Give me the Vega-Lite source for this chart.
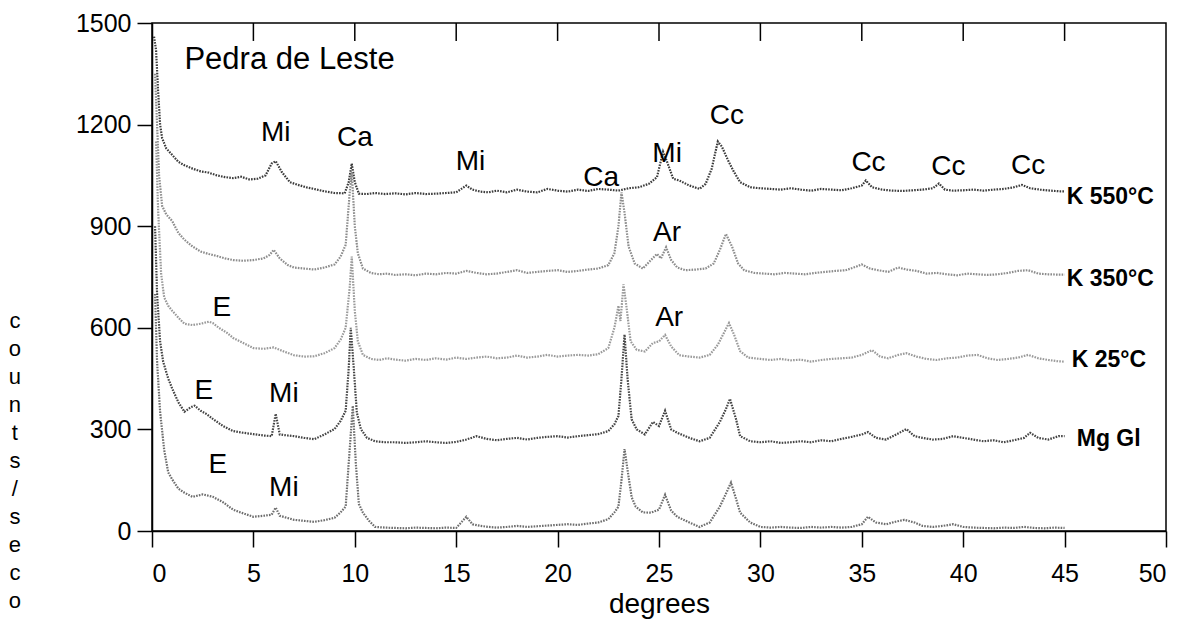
{
  "$schema": "https://vega.github.io/schema/vega-lite/v6.json",
  "autosize": "none",
  "width": 1014,
  "height": 508,
  "padding": {"left": 152, "top": 23, "right": 21, "bottom": 91},
  "background": "white",
  "config": {
    "font": "Liberation Sans",
    "view": {"stroke": "black", "strokeWidth": 1.5},
    "axis": {"grid": false, "domainColor": "black", "tickColor": "black", "labelColor": "black", "titleColor": "black", "labelFont": "Liberation Sans", "titleFont": "Liberation Sans", "labelFontSize": 25, "domainWidth": 1.5, "tickWidth": 1.5}
  },
  "datasets": {
    "traces": [
      {"s":"K550","x":0.1,"y":1460},{"s":"K550","x":0.2,"y":1420},{"s":"K550","x":0.3,"y":1300},{"s":"K550","x":0.4,"y":1200},{"s":"K550","x":0.5,"y":1160},{"s":"K550","x":0.7,"y":1130},{"s":"K550","x":1.0,"y":1110},{"s":"K550","x":1.3,"y":1090},{"s":"K550","x":1.6,"y":1080},{"s":"K550","x":2.0,"y":1070},{"s":"K550","x":2.4,"y":1062},{"s":"K550","x":2.8,"y":1058},{"s":"K550","x":3.2,"y":1050},{"s":"K550","x":3.6,"y":1045},{"s":"K550","x":4.0,"y":1042},{"s":"K550","x":4.4,"y":1046},{"s":"K550","x":4.8,"y":1038},{"s":"K550","x":5.2,"y":1040},{"s":"K550","x":5.6,"y":1050},{"s":"K550","x":5.9,"y":1085},{"s":"K550","x":6.1,"y":1092},{"s":"K550","x":6.4,"y":1060},{"s":"K550","x":6.8,"y":1030},{"s":"K550","x":7.2,"y":1022},{"s":"K550","x":7.6,"y":1015},{"s":"K550","x":8.0,"y":1010},{"s":"K550","x":8.5,"y":1003},{"s":"K550","x":9.0,"y":998},{"s":"K550","x":9.5,"y":997},{"s":"K550","x":9.7,"y":1030},{"s":"K550","x":9.85,"y":1085},{"s":"K550","x":10.0,"y":1030},{"s":"K550","x":10.2,"y":996},{"s":"K550","x":10.6,"y":995},{"s":"K550","x":11.0,"y":998},{"s":"K550","x":11.5,"y":995},{"s":"K550","x":12,"y":997},{"s":"K550","x":12.5,"y":994},{"s":"K550","x":13,"y":998},{"s":"K550","x":13.5,"y":995},{"s":"K550","x":14,"y":996},{"s":"K550","x":14.5,"y":998},{"s":"K550","x":15,"y":1000},{"s":"K550","x":15.5,"y":1020},{"s":"K550","x":15.8,"y":1008},{"s":"K550","x":16.2,"y":1002},{"s":"K550","x":16.6,"y":1000},{"s":"K550","x":17,"y":1005},{"s":"K550","x":17.5,"y":1000},{"s":"K550","x":18,"y":1008},{"s":"K550","x":18.5,"y":1002},{"s":"K550","x":19,"y":1000},{"s":"K550","x":19.5,"y":1010},{"s":"K550","x":20,"y":1005},{"s":"K550","x":20.5,"y":1002},{"s":"K550","x":21,"y":1008},{"s":"K550","x":21.5,"y":1004},{"s":"K550","x":22,"y":1010},{"s":"K550","x":22.5,"y":1008},{"s":"K550","x":23,"y":1005},{"s":"K550","x":23.5,"y":1012},{"s":"K550","x":24,"y":1015},{"s":"K550","x":24.5,"y":1025},{"s":"K550","x":24.9,"y":1045},{"s":"K550","x":25.2,"y":1120},{"s":"K550","x":25.4,"y":1090},{"s":"K550","x":25.7,"y":1040},{"s":"K550","x":26,"y":1035},{"s":"K550","x":26.5,"y":1020},{"s":"K550","x":27,"y":1010},{"s":"K550","x":27.3,"y":1025},{"s":"K550","x":27.6,"y":1070},{"s":"K550","x":27.9,"y":1150},{"s":"K550","x":28.1,"y":1135},{"s":"K550","x":28.4,"y":1095},{"s":"K550","x":28.7,"y":1060},{"s":"K550","x":29,"y":1030},{"s":"K550","x":29.5,"y":1015},{"s":"K550","x":30,"y":1012},{"s":"K550","x":30.5,"y":1010},{"s":"K550","x":31,"y":1008},{"s":"K550","x":31.5,"y":1012},{"s":"K550","x":32,"y":1008},{"s":"K550","x":32.5,"y":1005},{"s":"K550","x":33,"y":1010},{"s":"K550","x":33.5,"y":1008},{"s":"K550","x":34,"y":1006},{"s":"K550","x":34.5,"y":1012},{"s":"K550","x":35,"y":1020},{"s":"K550","x":35.2,"y":1035},{"s":"K550","x":35.5,"y":1015},{"s":"K550","x":36,"y":1008},{"s":"K550","x":36.5,"y":1005},{"s":"K550","x":37,"y":1004},{"s":"K550","x":37.5,"y":1006},{"s":"K550","x":38,"y":1008},{"s":"K550","x":38.5,"y":1012},{"s":"K550","x":38.8,"y":1026},{"s":"K550","x":39.1,"y":1008},{"s":"K550","x":39.5,"y":1005},{"s":"K550","x":40,"y":1006},{"s":"K550","x":40.5,"y":1008},{"s":"K550","x":41,"y":1005},{"s":"K550","x":41.5,"y":1008},{"s":"K550","x":42,"y":1010},{"s":"K550","x":42.5,"y":1015},{"s":"K550","x":42.9,"y":1022},{"s":"K550","x":43.3,"y":1012},{"s":"K550","x":43.8,"y":1008},{"s":"K550","x":44.3,"y":1005},{"s":"K550","x":44.8,"y":1003},{"s":"K550","x":45,"y":1003},

      {"s":"K350","x":0.15,"y":1350},{"s":"K350","x":0.25,"y":1200},{"s":"K350","x":0.35,"y":1050},{"s":"K350","x":0.5,"y":960},{"s":"K350","x":0.7,"y":935},{"s":"K350","x":1.0,"y":915},{"s":"K350","x":1.3,"y":880},{"s":"K350","x":1.6,"y":860},{"s":"K350","x":2.0,"y":840},{"s":"K350","x":2.4,"y":825},{"s":"K350","x":2.8,"y":818},{"s":"K350","x":3.2,"y":812},{"s":"K350","x":3.6,"y":805},{"s":"K350","x":4.0,"y":800},{"s":"K350","x":4.5,"y":798},{"s":"K350","x":5.0,"y":800},{"s":"K350","x":5.5,"y":805},{"s":"K350","x":5.8,"y":815},{"s":"K350","x":6.0,"y":830},{"s":"K350","x":6.3,"y":805},{"s":"K350","x":6.7,"y":785},{"s":"K350","x":7.0,"y":778},{"s":"K350","x":7.5,"y":775},{"s":"K350","x":8.0,"y":772},{"s":"K350","x":8.5,"y":778},{"s":"K350","x":9.0,"y":787},{"s":"K350","x":9.3,"y":810},{"s":"K350","x":9.55,"y":845},{"s":"K350","x":9.75,"y":1000},{"s":"K350","x":9.85,"y":1060},{"s":"K350","x":10.0,"y":900},{"s":"K350","x":10.15,"y":820},{"s":"K350","x":10.4,"y":775},{"s":"K350","x":10.8,"y":762},{"s":"K350","x":11.2,"y":758},{"s":"K350","x":11.6,"y":760},{"s":"K350","x":12,"y":756},{"s":"K350","x":12.5,"y":758},{"s":"K350","x":13,"y":755},{"s":"K350","x":13.5,"y":760},{"s":"K350","x":14,"y":758},{"s":"K350","x":14.5,"y":762},{"s":"K350","x":15,"y":760},{"s":"K350","x":15.5,"y":768},{"s":"K350","x":16,"y":762},{"s":"K350","x":16.5,"y":758},{"s":"K350","x":17,"y":760},{"s":"K350","x":17.5,"y":765},{"s":"K350","x":18,"y":770},{"s":"K350","x":18.5,"y":762},{"s":"K350","x":19,"y":765},{"s":"K350","x":19.5,"y":768},{"s":"K350","x":20,"y":770},{"s":"K350","x":20.5,"y":765},{"s":"K350","x":21,"y":768},{"s":"K350","x":21.5,"y":772},{"s":"K350","x":22,"y":775},{"s":"K350","x":22.5,"y":785},{"s":"K350","x":22.8,"y":820},{"s":"K350","x":23.0,"y":900},{"s":"K350","x":23.15,"y":1000},{"s":"K350","x":23.3,"y":940},{"s":"K350","x":23.5,"y":840},{"s":"K350","x":23.8,"y":790},{"s":"K350","x":24.2,"y":775},{"s":"K350","x":24.6,"y":800},{"s":"K350","x":24.9,"y":818},{"s":"K350","x":25.1,"y":805},{"s":"K350","x":25.35,"y":838},{"s":"K350","x":25.6,"y":800},{"s":"K350","x":25.9,"y":778},{"s":"K350","x":26.3,"y":770},{"s":"K350","x":26.8,"y":772},{"s":"K350","x":27.3,"y":775},{"s":"K350","x":27.7,"y":790},{"s":"K350","x":28.0,"y":830},{"s":"K350","x":28.3,"y":877},{"s":"K350","x":28.6,"y":840},{"s":"K350","x":28.9,"y":790},{"s":"K350","x":29.2,"y":770},{"s":"K350","x":29.7,"y":762},{"s":"K350","x":30.2,"y":760},{"s":"K350","x":30.7,"y":758},{"s":"K350","x":31.2,"y":762},{"s":"K350","x":31.7,"y":760},{"s":"K350","x":32.2,"y":758},{"s":"K350","x":32.7,"y":762},{"s":"K350","x":33.2,"y":765},{"s":"K350","x":33.7,"y":768},{"s":"K350","x":34.2,"y":770},{"s":"K350","x":34.7,"y":780},{"s":"K350","x":35.0,"y":787},{"s":"K350","x":35.4,"y":775},{"s":"K350","x":35.8,"y":770},{"s":"K350","x":36.3,"y":765},{"s":"K350","x":36.8,"y":778},{"s":"K350","x":37.2,"y":772},{"s":"K350","x":37.7,"y":768},{"s":"K350","x":38.2,"y":760},{"s":"K350","x":38.7,"y":762},{"s":"K350","x":39.2,"y":758},{"s":"K350","x":39.7,"y":755},{"s":"K350","x":40.2,"y":760},{"s":"K350","x":40.7,"y":758},{"s":"K350","x":41.2,"y":756},{"s":"K350","x":41.7,"y":758},{"s":"K350","x":42.2,"y":762},{"s":"K350","x":42.7,"y":768},{"s":"K350","x":43.2,"y":770},{"s":"K350","x":43.7,"y":760},{"s":"K350","x":44.2,"y":758},{"s":"K350","x":44.7,"y":757},{"s":"K350","x":45.0,"y":757},

      {"s":"K25","x":0.2,"y":1150},{"s":"K25","x":0.3,"y":950},{"s":"K25","x":0.45,"y":760},{"s":"K25","x":0.6,"y":690},{"s":"K25","x":0.8,"y":665},{"s":"K25","x":1.0,"y":650},{"s":"K25","x":1.3,"y":630},{"s":"K25","x":1.6,"y":612},{"s":"K25","x":2.0,"y":608},{"s":"K25","x":2.4,"y":612},{"s":"K25","x":2.8,"y":618},{"s":"K25","x":3.0,"y":614},{"s":"K25","x":3.3,"y":600},{"s":"K25","x":3.7,"y":585},{"s":"K25","x":4.0,"y":570},{"s":"K25","x":4.5,"y":555},{"s":"K25","x":5.0,"y":540},{"s":"K25","x":5.5,"y":538},{"s":"K25","x":6.0,"y":542},{"s":"K25","x":6.5,"y":530},{"s":"K25","x":7.0,"y":519},{"s":"K25","x":7.5,"y":515},{"s":"K25","x":8.0,"y":516},{"s":"K25","x":8.5,"y":525},{"s":"K25","x":9.0,"y":540},{"s":"K25","x":9.3,"y":565},{"s":"K25","x":9.55,"y":600},{"s":"K25","x":9.75,"y":720},{"s":"K25","x":9.85,"y":810},{"s":"K25","x":10.0,"y":650},{"s":"K25","x":10.15,"y":560},{"s":"K25","x":10.4,"y":520},{"s":"K25","x":10.8,"y":508},{"s":"K25","x":11.2,"y":505},{"s":"K25","x":11.6,"y":510},{"s":"K25","x":12,"y":506},{"s":"K25","x":12.5,"y":503},{"s":"K25","x":13,"y":508},{"s":"K25","x":13.5,"y":505},{"s":"K25","x":14,"y":510},{"s":"K25","x":14.5,"y":506},{"s":"K25","x":15,"y":512},{"s":"K25","x":15.5,"y":508},{"s":"K25","x":16,"y":512},{"s":"K25","x":16.5,"y":515},{"s":"K25","x":17,"y":510},{"s":"K25","x":17.5,"y":512},{"s":"K25","x":18,"y":518},{"s":"K25","x":18.5,"y":512},{"s":"K25","x":19,"y":515},{"s":"K25","x":19.5,"y":520},{"s":"K25","x":20,"y":515},{"s":"K25","x":20.5,"y":518},{"s":"K25","x":21,"y":520},{"s":"K25","x":21.5,"y":518},{"s":"K25","x":22,"y":522},{"s":"K25","x":22.5,"y":540},{"s":"K25","x":22.8,"y":600},{"s":"K25","x":23.0,"y":665},{"s":"K25","x":23.1,"y":620},{"s":"K25","x":23.25,"y":728},{"s":"K25","x":23.4,"y":660},{"s":"K25","x":23.6,"y":560},{"s":"K25","x":23.9,"y":535},{"s":"K25","x":24.3,"y":530},{"s":"K25","x":24.7,"y":555},{"s":"K25","x":25.0,"y":560},{"s":"K25","x":25.3,"y":579},{"s":"K25","x":25.6,"y":545},{"s":"K25","x":26.0,"y":519},{"s":"K25","x":26.5,"y":515},{"s":"K25","x":27.0,"y":512},{"s":"K25","x":27.5,"y":520},{"s":"K25","x":27.9,"y":550},{"s":"K25","x":28.2,"y":585},{"s":"K25","x":28.45,"y":614},{"s":"K25","x":28.7,"y":580},{"s":"K25","x":29.0,"y":531},{"s":"K25","x":29.4,"y":512},{"s":"K25","x":30,"y":508},{"s":"K25","x":30.5,"y":505},{"s":"K25","x":31,"y":508},{"s":"K25","x":31.5,"y":504},{"s":"K25","x":32,"y":506},{"s":"K25","x":32.5,"y":500},{"s":"K25","x":33,"y":505},{"s":"K25","x":33.5,"y":508},{"s":"K25","x":34,"y":510},{"s":"K25","x":34.5,"y":512},{"s":"K25","x":35,"y":520},{"s":"K25","x":35.5,"y":534},{"s":"K25","x":35.9,"y":515},{"s":"K25","x":36.3,"y":510},{"s":"K25","x":36.8,"y":520},{"s":"K25","x":37.2,"y":525},{"s":"K25","x":37.7,"y":515},{"s":"K25","x":38.2,"y":508},{"s":"K25","x":38.7,"y":505},{"s":"K25","x":39.2,"y":510},{"s":"K25","x":39.7,"y":512},{"s":"K25","x":40.2,"y":518},{"s":"K25","x":40.7,"y":520},{"s":"K25","x":41.2,"y":510},{"s":"K25","x":41.7,"y":505},{"s":"K25","x":42.2,"y":508},{"s":"K25","x":42.7,"y":512},{"s":"K25","x":43.2,"y":520},{"s":"K25","x":43.7,"y":510},{"s":"K25","x":44.2,"y":505},{"s":"K25","x":44.7,"y":501},{"s":"K25","x":45,"y":500},

      {"s":"MgGl","x":0.15,"y":900},{"s":"MgGl","x":0.25,"y":700},{"s":"MgGl","x":0.4,"y":560},{"s":"MgGl","x":0.55,"y":500},{"s":"MgGl","x":0.8,"y":450},{"s":"MgGl","x":1.0,"y":420},{"s":"MgGl","x":1.3,"y":380},{"s":"MgGl","x":1.6,"y":352},{"s":"MgGl","x":1.9,"y":365},{"s":"MgGl","x":2.1,"y":370},{"s":"MgGl","x":2.4,"y":355},{"s":"MgGl","x":2.7,"y":345},{"s":"MgGl","x":3.0,"y":331},{"s":"MgGl","x":3.5,"y":310},{"s":"MgGl","x":4.0,"y":295},{"s":"MgGl","x":4.5,"y":290},{"s":"MgGl","x":5.0,"y":286},{"s":"MgGl","x":5.5,"y":282},{"s":"MgGl","x":5.9,"y":280},{"s":"MgGl","x":6.1,"y":346},{"s":"MgGl","x":6.3,"y":285},{"s":"MgGl","x":6.7,"y":282},{"s":"MgGl","x":7.0,"y":280},{"s":"MgGl","x":7.5,"y":275},{"s":"MgGl","x":8.0,"y":271},{"s":"MgGl","x":8.5,"y":285},{"s":"MgGl","x":9.0,"y":301},{"s":"MgGl","x":9.3,"y":325},{"s":"MgGl","x":9.55,"y":355},{"s":"MgGl","x":9.7,"y":480},{"s":"MgGl","x":9.8,"y":600},{"s":"MgGl","x":9.95,"y":480},{"s":"MgGl","x":10.1,"y":350},{"s":"MgGl","x":10.3,"y":301},{"s":"MgGl","x":10.6,"y":275},{"s":"MgGl","x":11,"y":265},{"s":"MgGl","x":11.5,"y":262},{"s":"MgGl","x":12,"y":262},{"s":"MgGl","x":12.5,"y":260},{"s":"MgGl","x":13,"y":262},{"s":"MgGl","x":13.5,"y":265},{"s":"MgGl","x":14,"y":262},{"s":"MgGl","x":14.5,"y":260},{"s":"MgGl","x":15,"y":263},{"s":"MgGl","x":15.5,"y":270},{"s":"MgGl","x":16,"y":280},{"s":"MgGl","x":16.5,"y":272},{"s":"MgGl","x":17,"y":268},{"s":"MgGl","x":17.5,"y":272},{"s":"MgGl","x":18,"y":275},{"s":"MgGl","x":18.5,"y":270},{"s":"MgGl","x":19,"y":275},{"s":"MgGl","x":19.5,"y":278},{"s":"MgGl","x":20,"y":280},{"s":"MgGl","x":20.5,"y":276},{"s":"MgGl","x":21,"y":280},{"s":"MgGl","x":21.5,"y":283},{"s":"MgGl","x":22,"y":286},{"s":"MgGl","x":22.5,"y":295},{"s":"MgGl","x":22.8,"y":315},{"s":"MgGl","x":23.0,"y":340},{"s":"MgGl","x":23.15,"y":450},{"s":"MgGl","x":23.3,"y":580},{"s":"MgGl","x":23.45,"y":450},{"s":"MgGl","x":23.65,"y":330},{"s":"MgGl","x":23.9,"y":300},{"s":"MgGl","x":24.3,"y":285},{"s":"MgGl","x":24.7,"y":322},{"s":"MgGl","x":25.0,"y":310},{"s":"MgGl","x":25.3,"y":355},{"s":"MgGl","x":25.6,"y":300},{"s":"MgGl","x":25.9,"y":290},{"s":"MgGl","x":26.5,"y":275},{"s":"MgGl","x":27.0,"y":265},{"s":"MgGl","x":27.5,"y":275},{"s":"MgGl","x":28.0,"y":322},{"s":"MgGl","x":28.3,"y":360},{"s":"MgGl","x":28.5,"y":390},{"s":"MgGl","x":28.8,"y":330},{"s":"MgGl","x":29.0,"y":280},{"s":"MgGl","x":29.5,"y":265},{"s":"MgGl","x":30,"y":262},{"s":"MgGl","x":30.5,"y":265},{"s":"MgGl","x":31,"y":260},{"s":"MgGl","x":31.5,"y":262},{"s":"MgGl","x":32,"y":265},{"s":"MgGl","x":32.5,"y":262},{"s":"MgGl","x":33,"y":268},{"s":"MgGl","x":33.5,"y":265},{"s":"MgGl","x":34,"y":272},{"s":"MgGl","x":34.5,"y":278},{"s":"MgGl","x":35,"y":285},{"s":"MgGl","x":35.3,"y":292},{"s":"MgGl","x":35.7,"y":275},{"s":"MgGl","x":36.2,"y":270},{"s":"MgGl","x":36.7,"y":285},{"s":"MgGl","x":37.2,"y":301},{"s":"MgGl","x":37.6,"y":280},{"s":"MgGl","x":38,"y":275},{"s":"MgGl","x":38.5,"y":270},{"s":"MgGl","x":39,"y":272},{"s":"MgGl","x":39.5,"y":280},{"s":"MgGl","x":40,"y":275},{"s":"MgGl","x":40.5,"y":270},{"s":"MgGl","x":41,"y":265},{"s":"MgGl","x":41.5,"y":268},{"s":"MgGl","x":42,"y":262},{"s":"MgGl","x":42.5,"y":268},{"s":"MgGl","x":43,"y":275},{"s":"MgGl","x":43.3,"y":290},{"s":"MgGl","x":43.7,"y":275},{"s":"MgGl","x":44.2,"y":270},{"s":"MgGl","x":44.7,"y":280},{"s":"MgGl","x":45,"y":280},

      {"s":"AD","x":0.15,"y":700},{"s":"AD","x":0.25,"y":500},{"s":"AD","x":0.4,"y":352},{"s":"AD","x":0.6,"y":240},{"s":"AD","x":0.8,"y":173},{"s":"AD","x":1.0,"y":152},{"s":"AD","x":1.3,"y":125},{"s":"AD","x":1.6,"y":113},{"s":"AD","x":2.0,"y":101},{"s":"AD","x":2.5,"y":108},{"s":"AD","x":3.0,"y":101},{"s":"AD","x":3.5,"y":85},{"s":"AD","x":4.0,"y":63},{"s":"AD","x":4.5,"y":52},{"s":"AD","x":5.0,"y":42},{"s":"AD","x":5.5,"y":45},{"s":"AD","x":5.9,"y":48},{"s":"AD","x":6.1,"y":69},{"s":"AD","x":6.3,"y":45},{"s":"AD","x":7.0,"y":33},{"s":"AD","x":7.5,"y":30},{"s":"AD","x":8.0,"y":27},{"s":"AD","x":8.5,"y":32},{"s":"AD","x":9.0,"y":39},{"s":"AD","x":9.3,"y":55},{"s":"AD","x":9.55,"y":72},{"s":"AD","x":9.7,"y":200},{"s":"AD","x":9.9,"y":370},{"s":"AD","x":10.05,"y":200},{"s":"AD","x":10.2,"y":80},{"s":"AD","x":10.4,"y":54},{"s":"AD","x":10.7,"y":30},{"s":"AD","x":11,"y":12},{"s":"AD","x":11.5,"y":10},{"s":"AD","x":12,"y":9},{"s":"AD","x":12.5,"y":8},{"s":"AD","x":13,"y":10},{"s":"AD","x":13.5,"y":9},{"s":"AD","x":14,"y":8},{"s":"AD","x":14.5,"y":10},{"s":"AD","x":15,"y":9},{"s":"AD","x":15.5,"y":42},{"s":"AD","x":15.8,"y":20},{"s":"AD","x":16.2,"y":15},{"s":"AD","x":16.6,"y":12},{"s":"AD","x":17,"y":10},{"s":"AD","x":17.5,"y":12},{"s":"AD","x":18,"y":15},{"s":"AD","x":18.5,"y":12},{"s":"AD","x":19,"y":14},{"s":"AD","x":19.5,"y":16},{"s":"AD","x":20,"y":18},{"s":"AD","x":20.5,"y":20},{"s":"AD","x":21,"y":18},{"s":"AD","x":21.5,"y":22},{"s":"AD","x":22,"y":25},{"s":"AD","x":22.5,"y":35},{"s":"AD","x":22.8,"y":55},{"s":"AD","x":23.0,"y":72},{"s":"AD","x":23.15,"y":150},{"s":"AD","x":23.3,"y":242},{"s":"AD","x":23.45,"y":180},{"s":"AD","x":23.65,"y":100},{"s":"AD","x":23.85,"y":72},{"s":"AD","x":24.2,"y":55},{"s":"AD","x":24.6,"y":54},{"s":"AD","x":25.0,"y":63},{"s":"AD","x":25.3,"y":107},{"s":"AD","x":25.6,"y":60},{"s":"AD","x":25.9,"y":42},{"s":"AD","x":26.5,"y":25},{"s":"AD","x":27.0,"y":12},{"s":"AD","x":27.5,"y":25},{"s":"AD","x":28.0,"y":72},{"s":"AD","x":28.3,"y":110},{"s":"AD","x":28.55,"y":143},{"s":"AD","x":28.8,"y":95},{"s":"AD","x":29.0,"y":54},{"s":"AD","x":29.5,"y":25},{"s":"AD","x":30,"y":12},{"s":"AD","x":30.5,"y":10},{"s":"AD","x":31,"y":12},{"s":"AD","x":31.5,"y":10},{"s":"AD","x":32,"y":9},{"s":"AD","x":32.5,"y":12},{"s":"AD","x":33,"y":10},{"s":"AD","x":33.5,"y":12},{"s":"AD","x":34,"y":10},{"s":"AD","x":34.5,"y":12},{"s":"AD","x":35,"y":20},{"s":"AD","x":35.3,"y":42},{"s":"AD","x":35.7,"y":25},{"s":"AD","x":36.2,"y":20},{"s":"AD","x":36.7,"y":28},{"s":"AD","x":37.1,"y":33},{"s":"AD","x":37.6,"y":25},{"s":"AD","x":38,"y":15},{"s":"AD","x":38.5,"y":12},{"s":"AD","x":39,"y":15},{"s":"AD","x":39.5,"y":20},{"s":"AD","x":40,"y":12},{"s":"AD","x":40.5,"y":10},{"s":"AD","x":41,"y":9},{"s":"AD","x":41.5,"y":8},{"s":"AD","x":42,"y":10},{"s":"AD","x":42.5,"y":9},{"s":"AD","x":43,"y":12},{"s":"AD","x":43.5,"y":9},{"s":"AD","x":44,"y":8},{"s":"AD","x":44.5,"y":10},{"s":"AD","x":45,"y":9}
    ],
    "peaks": [
      {"x":6.1,"y":1175,"t":"Mi"},{"x":10.0,"y":1160,"t":"Ca"},{"x":15.7,"y":1089,"t":"Mi"},
      {"x":25.4,"y":1112,"t":"Mi"},{"x":28.35,"y":1226,"t":"Cc"},{"x":22.15,"y":1041,"t":"Ca"},
      {"x":25.4,"y":880,"t":"Ar"},{"x":25.5,"y":629,"t":"Ar"},{"x":3.45,"y":659,"t":"E"},
      {"x":2.56,"y":412,"t":"E"},{"x":6.5,"y":406,"t":"Mi"},{"x":3.25,"y":194,"t":"E"},
      {"x":6.5,"y":128,"t":"Mi"},{"x":35.33,"y":1086,"t":"Cc"},{"x":39.27,"y":1074,"t":"Cc"},{"x":43.2,"y":1077,"t":"Cc"}
    ],
    "series": [
      {"x":45.1,"y":987,"t":"K 550°C"},{"x":45.1,"y":743,"t":"K 350°C"},
      {"x":45.35,"y":504,"t":"K 25°C"},{"x":45.6,"y":271,"t":"Mg Gl"}
    ],
    "heading": [{"x":1.6,"y":1390,"t":"Pedra de Leste"}],
    "ytitle": [{"x":-6.76,"y":620,"t":"c\no\nu\nn\nt\ns\n/\ns\ne\nc\no\nn\nd"}],
    "topticks": [{"x":5},{"x":10},{"x":15},{"x":20},{"x":25},{"x":30},{"x":35},{"x":40},{"x":45}]
  },
  "resolve": {"axis": {"x": "independent", "y": "independent"}},
  "layer": [
    {
      "data": {"name": "traces"},
      "mark": {"type": "line", "strokeWidth": 2.2, "strokeDash": [1.6, 1.2], "interpolate": "linear"},
      "encoding": {
        "x": {"field": "x", "type": "quantitative", "scale": {"domain": [0, 50], "nice": false},
          "axis": {"orient": "bottom", "values": [0,5,10,15,20,25,30,35,40,45,50], "grid": false, "tickSize": 16, "labelPadding": 14, "title": "degrees", "titleFontSize": 28, "titleFontWeight": "normal", "titlePadding": 4}},
        "y": {"field": "y", "type": "quantitative", "scale": {"domain": [0, 1500], "nice": false},
          "axis": {"values": [0,300,600,900,1200,1500], "format": "d", "grid": false, "tickSize": 15, "labelPadding": 6, "title": null}},
        "color": {"field": "s", "type": "nominal", "legend": null,
          "scale": {"domain": ["K550","K350","K25","MgGl","AD"], "range": ["#3c3c3c","#8c8c8c","#9a9a9a","#444444","#6e6e6e"]}},
        "detail": {"field": "s"}
      }
    },
    {
      "data": {"name": "topticks"},
      "mark": {"type": "rule", "color": "black", "strokeWidth": 1.5},
      "encoding": {
        "x": {"field": "x", "type": "quantitative", "axis": null},
        "y": {"datum": 1500, "axis": null},
        "y2": {"datum": 1447}
      }
    },
    {
      "data": {"name": "ytitle"},
      "mark": {"type": "text", "fontSize": 22, "font": "Liberation Sans", "color": "black", "align": "center", "baseline": "middle", "lineBreak": "\n", "lineHeight": 28},
      "encoding": {
        "x": {"field": "x", "type": "quantitative", "axis": null},
        "y": {"field": "y", "type": "quantitative", "axis": null},
        "text": {"field": "t"}
      }
    },
    {
      "data": {"name": "peaks"},
      "mark": {"type": "text", "fontSize": 28, "font": "Liberation Sans", "color": "black", "align": "center", "baseline": "middle"},
      "encoding": {
        "x": {"field": "x", "type": "quantitative", "axis": null},
        "y": {"field": "y", "type": "quantitative", "axis": null},
        "text": {"field": "t"}
      }
    },
    {
      "data": {"name": "series"},
      "mark": {"type": "text", "fontSize": 23, "fontWeight": "bold", "font": "Liberation Sans", "color": "black", "align": "left", "baseline": "middle"},
      "encoding": {
        "x": {"field": "x", "type": "quantitative", "axis": null},
        "y": {"field": "y", "type": "quantitative", "axis": null},
        "text": {"field": "t"}
      }
    },
    {
      "data": {"name": "heading"},
      "mark": {"type": "text", "fontSize": 31, "font": "Liberation Sans", "color": "black", "align": "left", "baseline": "middle"},
      "encoding": {
        "x": {"field": "x", "type": "quantitative", "axis": null},
        "y": {"field": "y", "type": "quantitative", "axis": null},
        "text": {"field": "t"}
      }
    }
  ]
}
